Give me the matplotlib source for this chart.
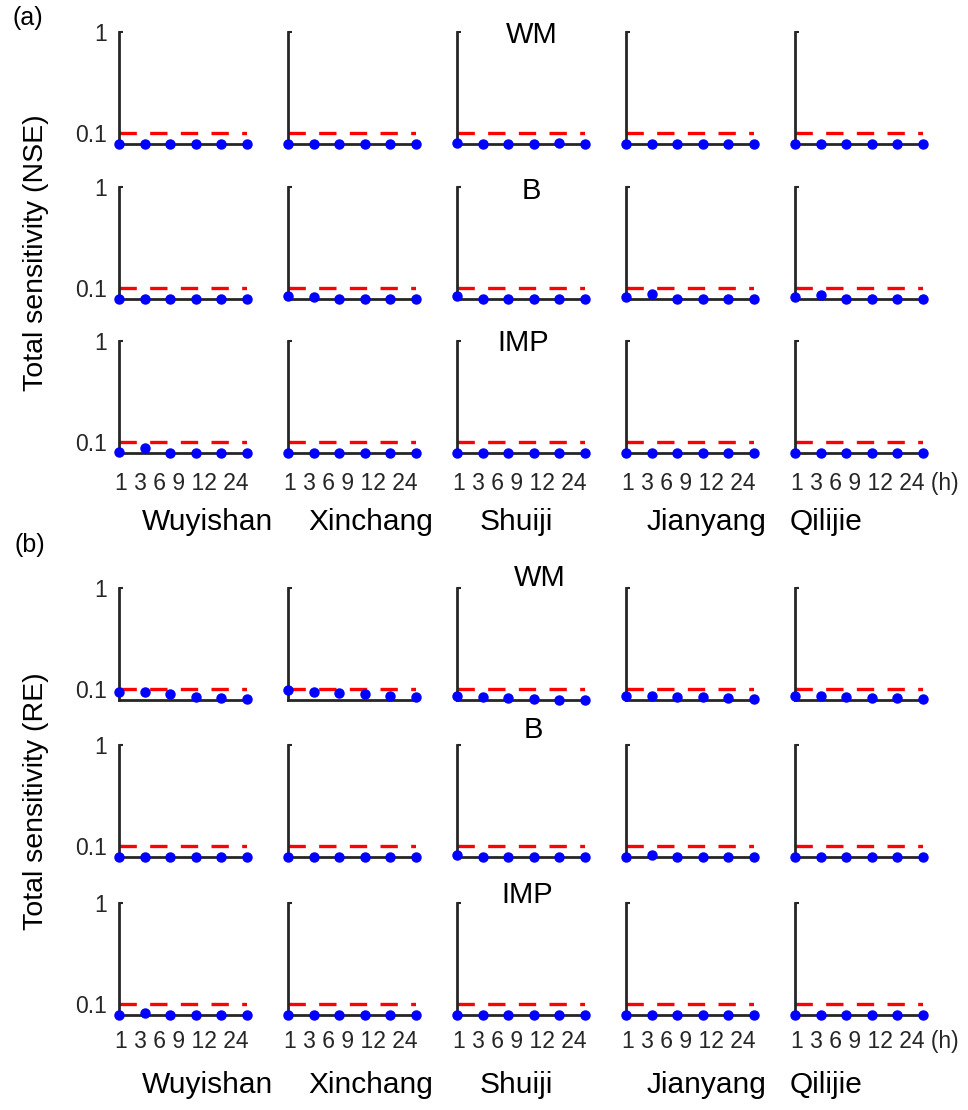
import matplotlib.pyplot as plt

plt.rcParams["font.family"] = ["Liberation Sans", "DejaVu Sans"]

stations = ["Wuyishan", "Xinchang", "Shuiji", "Jianyang", "Qilijie"]
hours = ["1", "3", "6", "9", "12", "24"]
params = ["WM", "B", "IMP"]
threshold = 0.1
floor = 0.0775  # lower end of the log axis, values at the floor sit on the x axis

# total sensitivity (NSE), one list per station, one value per time step
nse_wm = [
    [0.0775, 0.0775, 0.0775, 0.0775, 0.0775, 0.0775],
    [0.0775, 0.0775, 0.0775, 0.0775, 0.0775, 0.0775],
    [0.0790, 0.0775, 0.0775, 0.0775, 0.0790, 0.0775],
    [0.0775, 0.0775, 0.0775, 0.0775, 0.0775, 0.0775],
    [0.0775, 0.0775, 0.0775, 0.0775, 0.0775, 0.0775],
]
nse_b = [
    [0.0775, 0.0775, 0.0775, 0.0775, 0.0775, 0.0775],
    [0.0830, 0.0810, 0.0775, 0.0775, 0.0775, 0.0775],
    [0.0830, 0.0780, 0.0775, 0.0775, 0.0775, 0.0775],
    [0.0820, 0.0870, 0.0780, 0.0775, 0.0775, 0.0775],
    [0.0820, 0.0850, 0.0780, 0.0775, 0.0775, 0.0775],
]
nse_imp = [
    [0.0790, 0.0860, 0.0780, 0.0775, 0.0775, 0.0775],
    [0.0775, 0.0775, 0.0775, 0.0775, 0.0775, 0.0775],
    [0.0775, 0.0775, 0.0775, 0.0775, 0.0775, 0.0775],
    [0.0775, 0.0775, 0.0775, 0.0775, 0.0775, 0.0775],
    [0.0775, 0.0775, 0.0775, 0.0775, 0.0775, 0.0775],
]

# total sensitivity (RE)
re_wm = [
    [0.0935, 0.0935, 0.0880, 0.0837, 0.0809, 0.0789],
    [0.0967, 0.0935, 0.0910, 0.0880, 0.0858, 0.0822],
    [0.0858, 0.0822, 0.0809, 0.0795, 0.0782, 0.0775],
    [0.0858, 0.0845, 0.0822, 0.0822, 0.0809, 0.0795],
    [0.0858, 0.0845, 0.0825, 0.0820, 0.0810, 0.0795],
]
re_b = [
    [0.0775, 0.0775, 0.0775, 0.0775, 0.0775, 0.0775],
    [0.0775, 0.0775, 0.0775, 0.0775, 0.0775, 0.0775],
    [0.0810, 0.0780, 0.0775, 0.0775, 0.0775, 0.0775],
    [0.0775, 0.0810, 0.0780, 0.0775, 0.0775, 0.0775],
    [0.0775, 0.0775, 0.0775, 0.0775, 0.0775, 0.0775],
]
re_imp = [
    [0.0775, 0.0810, 0.0780, 0.0775, 0.0775, 0.0775],
    [0.0775, 0.0775, 0.0775, 0.0775, 0.0775, 0.0775],
    [0.0775, 0.0775, 0.0775, 0.0775, 0.0775, 0.0775],
    [0.0775, 0.0775, 0.0775, 0.0775, 0.0775, 0.0775],
    [0.0775, 0.0775, 0.0775, 0.0775, 0.0775, 0.0775],
]

panels = [
    ("(a)", "Total sensitivity (NSE)", [nse_wm, nse_b, nse_imp]),
    ("(b)", "Total sensitivity (RE)", [re_wm, re_b, re_imp]),
]

# layout in pixels of the 968x1110 figure
W, H = 968, 1110
col_left = [119, 288, 457, 626, 795]
ax_w, ax_h = 128, 112
row_top = [[32, 187, 341], [588, 745, 903]]
panel_tag_xy = [(28, 18), (30, 545)]
ylabel_xy = [(36, 253), (36, 801)]
hours_base = [490, 1048]
name_base = [530, 1093]
name_x = [208, 371, 516, 707, 826]
param_xy = [[(532, 35), (531, 191), (523, 343)], [(540, 578), (533, 730), (527, 895)]]

dark = "#262626"


def fx(x):
    return x / W


def fy(y):
    return 1 - y / H


fig = plt.figure(figsize=(W / 100, H / 100), dpi=100)

for p, (tag, ylab, rows) in enumerate(panels):
    for r, data in enumerate(rows):
        for c in range(len(stations)):
            top = row_top[p][r]
            ax = fig.add_axes([fx(col_left[c]), fy(top + ax_h), ax_w / W, ax_h / H])
            x = list(range(1, len(hours) + 1))
            ax.plot(x, [threshold] * len(x), color="red", lw=2.4, dashes=(5.2, 4.0))
            ax.plot(x, data[c], "o", color="blue", ms=6.5, clip_on=False, zorder=5)
            ax.set_yscale("log")
            ax.set_ylim(floor, 1)
            ax.set_xlim(1, len(hours))
            ax.set_xticks([])
            ax.minorticks_off()
            ax.set_yticks([0.1, 1])
            if c == 0:
                ax.set_yticklabels(["0.1", "1"])
            else:
                ax.set_yticklabels([])
            ax.tick_params(axis="y", direction="in", length=3, width=1.5,
                           colors=dark, labelsize=16.5, pad=9)
            for s in ["top", "right"]:
                ax.spines[s].set_visible(False)
            for s in ["left", "bottom"]:
                ax.spines[s].set_linewidth(2.0)
                ax.spines[s].set_color(dark)
            ax.patch.set_alpha(0)

        px, py = param_xy[p][r]
        fig.text(fx(px), fy(py), params[r], ha="center", va="center", fontsize=21)

    for c, name in enumerate(stations):
        label = " ".join(hours)
        if c == len(stations) - 1:
            label += " (h)"
        fig.text(fx(col_left[c] - 4), fy(hours_base[p]), label, ha="left",
                 va="baseline", fontsize=16.5, color=dark)
        fig.text(fx(name_x[c]), fy(name_base[p]), name, ha="center", va="baseline",
                 fontsize=21.5)

    fig.text(fx(panel_tag_xy[p][0]), fy(panel_tag_xy[p][1]), tag, ha="center",
             va="center", fontsize=18)
    fig.text(fx(ylabel_xy[p][0]), fy(ylabel_xy[p][1]), ylab, ha="center",
             va="center", rotation=90, fontsize=20.5)

fig.savefig("out.png", dpi=100)
